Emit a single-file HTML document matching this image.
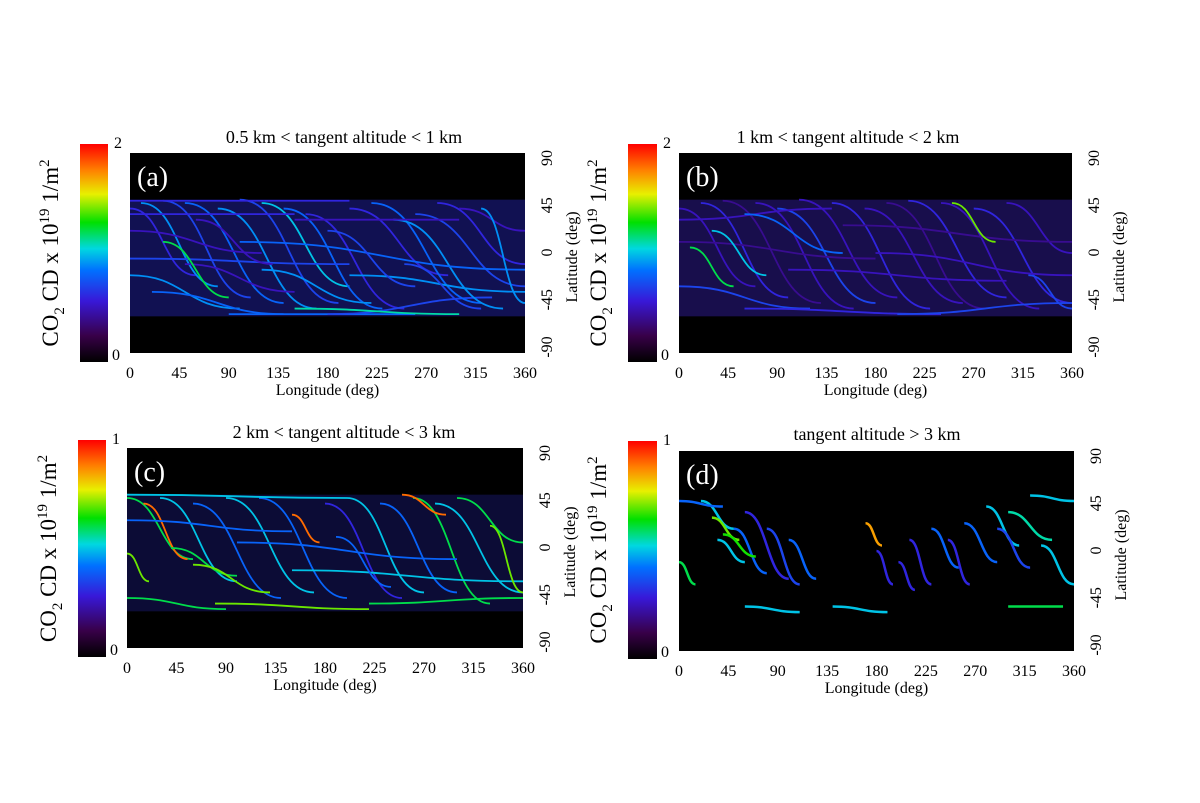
<!DOCTYPE html>
<html><head><meta charset="utf-8"><style>
html,body{margin:0;padding:0;background:#fff;}
svg{display:block;font-family:"Liberation Serif",serif;}
</style></head><body>
<svg id="fig" width="1200" height="803" viewBox="0 0 1200 803" xmlns="http://www.w3.org/2000/svg">
<defs>
<linearGradient id="cmap" x1="0" y1="1" x2="0" y2="0">
<stop offset="0" stop-color="#000000"/><stop offset="0.12" stop-color="#380048"/>
<stop offset="0.28" stop-color="#3818d8"/><stop offset="0.42" stop-color="#0070ff"/>
<stop offset="0.52" stop-color="#00d8e0"/><stop offset="0.64" stop-color="#00e000"/>
<stop offset="0.77" stop-color="#e8f000"/><stop offset="0.88" stop-color="#ff8000"/>
<stop offset="1" stop-color="#ff0000"/>
</linearGradient>
</defs>
</svg>
<script>
const lonTicks = [0,45,90,135,180,225,270,315,360];
const latTicks = [90,45,0,-45,-90];
const titles = ["0.5 km < tangent altitude < 1 km","1 km < tangent altitude < 2 km","2 km < tangent altitude < 3 km","tangent altitude > 3 km"];
const panelLetters = ["(a)","(b)","(c)","(d)"];
const cbMax = [2,2,1,1];
// tracks: [lon0, lat0, lon1, lat1, value]
const tracksA = [[0,40,60,-20,0.6],[10,45,80,-30,0.9],[30,47,110,-40,0.7],[50,45,140,-45,0.8],[80,40,170,-50,0.9],[100,48,190,-45,0.7],[120,45,200,-30,1.0],[140,40,230,-50,0.8],[160,35,250,-50,0.6],[0,-20,100,-50,0.9],[20,-35,140,-55,0.8],[90,-55,260,-55,0.8],[180,-55,330,-40,0.7],[200,40,290,-20,0.6],[220,45,320,-45,0.8],[240,30,340,-50,0.9],[260,35,360,-30,0.7],[280,45,360,-10,0.6],[300,40,360,20,0.5],[0,20,120,0,0.5],[0,-5,200,-10,0.7],[100,10,360,-15,0.8],[150,30,300,30,0.5],[0,35,150,35,0.6],[200,-20,360,-35,0.9],[50,-10,150,-35,0.5],[30,10,90,-40,1.2],[180,20,260,-30,0.7],[320,40,360,-45,0.9],[250,-10,320,-50,0.7],[60,30,130,-10,0.5],[120,-15,220,-45,0.9],[0,47,200,47,0.6],[150,-50,300,-55,1.1]];
const tracksB = [[0,40,70,-30,0.5],[20,45,100,-40,0.6],[40,47,130,-45,0.4],[70,45,160,-50,0.5],[90,40,180,-45,0.7],[110,48,200,-40,0.5],[140,45,230,-50,0.6],[170,40,260,-45,0.5],[190,45,280,-50,0.4],[210,47,300,-40,0.6],[240,45,330,-50,0.5],[270,40,360,-45,0.6],[300,45,360,0,0.5],[0,-30,120,-50,0.7],[60,-50,240,-55,0.6],[200,-55,360,-45,0.7],[0,10,180,-5,0.4],[100,-15,300,-25,0.5],[150,25,360,10,0.4],[0,30,140,40,0.5],[10,5,50,-30,1.2],[250,45,290,10,1.4],[30,20,80,-20,1.0],[180,0,360,-20,0.5],[60,35,150,0,0.8],[320,-20,360,-50,0.7]];
const tracksC = [[0,45,60,-10,0.6],[15,40,55,-10,0.9],[30,45,100,-30,0.5],[60,40,140,-45,0.4],[90,45,170,-40,0.5],[150,30,175,5,0.9],[120,45,200,-45,0.4],[180,40,250,-45,0.3],[200,45,270,-40,0.5],[230,40,300,-40,0.4],[260,45,330,-50,0.6],[280,40,360,-40,0.5],[300,45,360,5,0.6],[0,-5,20,-30,0.7],[0,-45,90,-55,0.6],[80,-50,220,-55,0.7],[220,-50,360,-45,0.6],[250,48,290,30,0.9],[0,25,150,15,0.4],[100,5,300,-10,0.4],[150,-20,360,-30,0.5],[0,48,200,45,0.5],[40,0,100,-25,0.6],[330,20,360,-40,0.7],[190,10,240,-35,0.4],[60,-15,130,-40,0.7]];
const tracksD = [[0,-10,15,-30,0.6],[20,45,50,20,0.5],[30,30,55,10,0.7],[35,10,60,-10,0.5],[50,20,80,-20,0.4],[60,35,100,-25,0.3],[80,20,110,-30,0.35],[100,10,125,-25,0.4],[170,25,185,5,0.85],[180,0,195,-30,0.3],[200,-10,215,-35,0.3],[210,10,230,-30,0.3],[230,20,255,-15,0.4],[245,10,265,-30,0.3],[260,25,290,-10,0.4],[280,40,310,5,0.5],[290,20,320,-15,0.35],[300,35,340,10,0.55],[330,5,360,-30,0.5],[60,-50,110,-55,0.5],[140,-50,190,-55,0.5],[300,-50,350,-50,0.6],[0,45,40,40,0.4],[320,50,360,45,0.5],[40,15,70,-5,0.65]];
const allTracks = [tracksA, tracksB, tracksC, tracksD];

const panels = [
 {cb:[80,144,28,218], map:[130,153,395,200], tx:344, ty:143, band:"#111152"},
 {cb:[628,144,29,218], map:[679,153,393,200], tx:848, ty:143, band:"#180e4c"},
 {cb:[78,440,28,217], map:[127,448,396,200], tx:344, ty:438, band:"#0c0c36"},
 {cb:[628,441,29,218], map:[679,451,395,200], tx:877, ty:440, band:"#000000"}
];
const NS = "http://www.w3.org/2000/svg";
const svg = document.getElementById('fig');
function mk(tag, attrs, parent){const e=document.createElementNS(NS,tag);for(const k in attrs)e.setAttribute(k,attrs[k]);(parent||svg).appendChild(e);return e;}
function cmap(f){
 const st=[[0,[0,0,0]],[0.12,[56,0,72]],[0.28,[56,24,216]],[0.42,[0,112,255]],[0.52,[0,216,224]],[0.64,[0,224,0]],[0.77,[232,240,0]],[0.88,[255,128,0]],[1,[255,0,0]]];
 f=Math.max(0,Math.min(1,f));
 for(let i=1;i<st.length;i++){if(f<=st[i][0]){const a=st[i-1],b=st[i],t=(f-a[0])/(b[0]-a[0]);return 'rgb('+a[1].map((v,j)=>Math.round(v+(b[1][j]-v)*t)).join(',')+')';}}
 return 'rgb(255,0,0)';
}
panels.forEach((p,i)=>{
 const [mx,my,mw,mh]=p.map;
 const xs = lon => mx + lon/360*mw;
 const ys = lat => my + (90-lat)/180*mh;
 const g = mk('g',{});
 
 
 const cb = mk('rect',{x:p.cb[0],y:p.cb[1],width:p.cb[2],height:p.cb[3],fill:'url(#cmap)'},g);
 
 
 const t1 = mk('text',{x:p.cb[0]+p.cb[2]+6,y:p.cb[1]+4,'font-size':16},g); t1.textContent=cbMax[i];
 
 
 const t0 = mk('text',{x:p.cb[0]+p.cb[2]+4,y:p.cb[1]+p.cb[3]-2,'font-size':16},g); t0.textContent='0';
 
 
 const cx=p.cb[0]-22, cy=p.cb[1]+p.cb[3]/2;
 const cl = mk('text',{x:cx,y:cy,'font-size':23,'text-anchor':'middle',transform:'rotate(-90 '+cx+' '+cy+')'},g);
 cl.innerHTML='CO<tspan font-size="15" dy="6">2</tspan><tspan dy="-6"> CD x 10</tspan><tspan font-size="15" dy="-9">19</tspan><tspan dy="9"> 1/m</tspan><tspan font-size="15" dy="-9">2</tspan>';
 
 
 const bg = mk('rect',{x:mx,y:my,width:mw,height:mh,fill:'#000'},g);
 
 
 const band = mk('rect',{x:mx,y:ys(48),width:mw,height:ys(-57)-ys(48),fill:p.band},g);
 
 
 allTracks[i].forEach(tr=>{
  const [l0,a0,l1,a1,v]=tr;
  const x0=xs(l0),y0=ys(a0),x1=xs(l1),y1=ys(a1),xm=(x0+x1)/2;
  const path = mk('path',{d:`M${x0},${y0} C${xm},${y0} ${xm},${y1} ${x1},${y1}`,fill:'none',stroke:cmap(v/cbMax[i]),'stroke-width':i===3?2.5:1.8},g);
  
  
 });
 const lt = mk('text',{x:mx+7,y:my+33,'font-size':28,fill:'#fff'},g); lt.textContent=panelLetters[i];
 
 
 const tt = mk('text',{x:p.tx,y:p.ty,'font-size':18,'text-anchor':'middle'},g); tt.textContent=titles[i];
 
 
 lonTicks.forEach(l=>{
  const e = mk('text',{x:xs(l),y:my+mh+25,'font-size':16,'text-anchor':'middle'},g); e.textContent=l;
  
  
 });
 const xl = mk('text',{x:mx+mw/2,y:my+mh+42,'font-size':16,'text-anchor':'middle'},g); xl.textContent='Longitude (deg)';
 
 
 latTicks.forEach(a=>{
  const lx=mx+mw+27, ly=my+5+(90-a)/180*(mh-11);
  const e = mk('text',{x:lx,y:ly,'font-size':16,'text-anchor':'middle',transform:'rotate(-90 '+lx+' '+ly+')'},g); e.textContent=a;
  
  
 });
 const yx=mx+mw+52, yy=my+mh/2+4;
 const yl = mk('text',{x:yx,y:yy,'font-size':16,'text-anchor':'middle',transform:'rotate(-90 '+yx+' '+yy+')'},g); yl.textContent='Latitude (deg)';
 
 
});
</script>
</body></html>
